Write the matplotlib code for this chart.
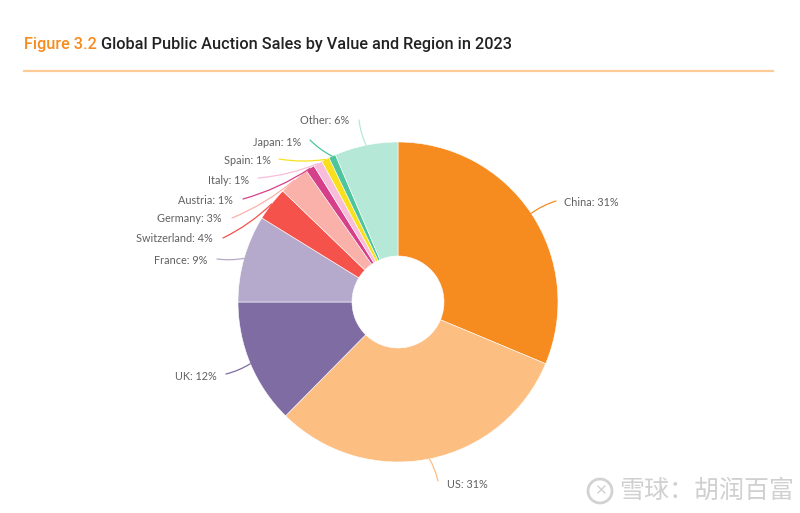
import numpy as np
import matplotlib
matplotlib.use("Agg")
import matplotlib.pyplot as plt
from matplotlib.patches import Circle

# data (share of value, %)
regions = ["China", "US", "UK", "France", "Switzerland", "Germany",
           "Austria", "Italy", "Spain", "Japan", "Other"]
shares = [31.3, 31.1, 12.6, 8.8, 3.4, 3.1, 0.9, 0.9, 0.8, 0.7, 6.4]
shown_pct = [31, 31, 12, 9, 4, 3, 1, 1, 1, 1, 6]
colors = ["#F68B1F", "#FDBE82", "#7F6CA3", "#B5AACB", "#F4524A", "#FAB1AA",
          "#D63F8A", "#F8BDD8", "#F8E11C", "#4EC59C", "#B6E8D7"]

W, H = 800, 513
fig = plt.figure(figsize=(W / 100, H / 100), dpi=100)
ax = fig.add_axes([0, 0, 1, 1])

# pixel coords, y measured from the top -> flip
def P(x, y):
    return x, H - y

cx, cy = P(398, 302)
R = 160
hole = 46

wedges, _ = ax.pie(shares, colors=colors, startangle=90, counterclock=False,
                   center=(cx, cy), radius=R,
                   wedgeprops=dict(width=R - hole, edgecolor="white", linewidth=0.4))
ax.set_xlim(0, W)
ax.set_ylim(0, H)
ax.set_aspect("equal")
ax.axis("off")

# where each label text sits (text anchor x, y, ha) and where its leader ends
label_pos = {
    "China": (564, 203, "left", 556, 201),
    "US": (447, 484, "left", 438, 481),
    "UK": (217, 376, "right", 226, 374),
    "France": (207, 260, "right", 217, 259),
    "Switzerland": (213, 239, "right", 223, 238),
    "Germany": (222, 219, "right", 232, 218),
    "Austria": (233, 200, "right", 243, 199),
    "Italy": (249, 181, "right", 258, 178),
    "Spain": (271, 161, "right", 279, 159),
    "Japan": (301, 142, "right", 310, 140),
    "Other": (349, 121, "right", 359, 120),
}

for w, name, pct, col in zip(wedges, regions, shown_pct, colors):
    mid = np.deg2rad((w.theta1 + w.theta2) / 2)
    ex = cx + R * np.cos(mid)
    ey = cy + R * np.sin(mid)
    tx, ty, ha, lx, ly = label_pos[name]
    lx, ly = P(lx, ly)
    ax.annotate("", xy=(ex, ey), xytext=(lx, ly),
                arrowprops=dict(arrowstyle="-", color=col, lw=0.9,
                                shrinkA=0, shrinkB=0,
                                connectionstyle="arc3,rad=0.08"))
    ax.text(*P(tx, ty), f"{name}: {pct}%", ha=ha, va="center",
            fontsize=7.8, family="Lato", color="#606060")

# title + rule
t1 = ax.text(*P(24, 44), "Figure 3.2", color="#F68B1F", fontsize=11.7,
             family="Roboto", fontweight="medium", va="center")
ax.annotate("Global Public Auction Sales by Value and Region in 2023",
            xy=(1, 0.5), xycoords=t1, xytext=(3, 0), textcoords="offset points",
            color="#222222", fontsize=11.7, family="Roboto", fontweight="medium",
            va="center")
ax.plot([24, 773], [H - 71, H - 71], color="#FDCB95", lw=1.6)

# watermark bottom right
ax.add_patch(Circle(P(600, 491), 12, fill=False, ec="#d2d2d2", lw=2))
ax.text(*P(600, 491), "✕", ha="center", va="center", fontsize=11,
        color="#d2d2d2", family="DejaVu Sans")
ax.text(*P(619, 491), "雪球：胡润百富", ha="left", va="center", fontsize=18,
        color="#d0d0d0", family=["Noto Sans CJK SC", "DejaVu Sans"])

fig.savefig("out.png", dpi=100, facecolor="white")
